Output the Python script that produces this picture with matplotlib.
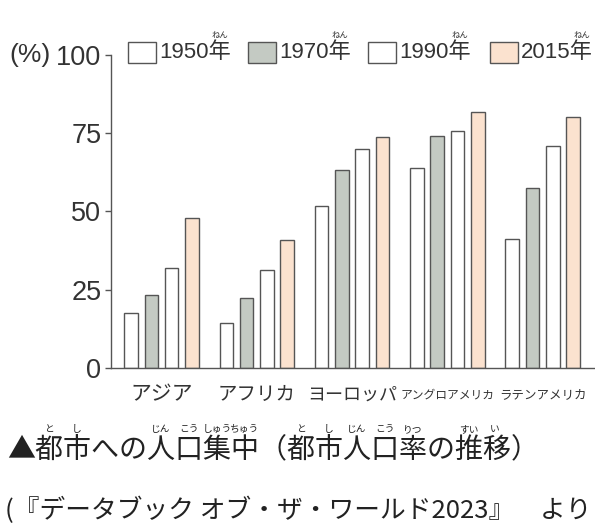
import matplotlib
matplotlib.use('Agg')
import matplotlib.pyplot as plt
from matplotlib.patches import Rectangle
import numpy as np

plt.rcParams['font.family'] = ['Noto Sans CJK JP', 'DejaVu Sans']
num_font = ['Liberation Sans', 'Noto Sans CJK JP']

regions = ['アジア', 'アフリカ', 'ヨーロッパ', 'アングロアメリカ', 'ラテンアメリカ']
years = ['1950年', '1970年', '1990年', '2015年']
v1950 = [17.4, 14.3, 51.7, 64.0, 41.3]
v1970 = [23.3, 22.3, 63.2, 74.2, 57.4]
v1990 = [31.9, 31.3, 70.0, 75.7, 70.9]
v2015 = [47.8, 40.8, 73.9, 81.8, 80.1]
yticks = [0, 25, 50, 75, 100]

colors = ['#ffffff', '#c4cac3', '#ffffff', '#fbe2cf']
edge = '#555555'
txt = '#333333'

W, H = 595, 529
fig = plt.figure(figsize=(W / 100, H / 100), dpi=100)
fig.patch.set_facecolor('white')

def px(x, y):
    return x / W, 1 - y / H

ax = fig.add_axes([111 / W, 1 - 367.7 / H, 1 - 111 / W, (367.7 - 55.2) / H])
x = np.arange(len(regions))
step = 0.213
bw = 0.142
for k, vals in enumerate([v1950, v1970, v1990, v2015]):
    ax.bar(x + (k - 1.5) * step, vals, bw, color=colors[k], edgecolor=edge, linewidth=1.0)

ax.set_xlim(-0.53, 4.55)
ax.set_ylim(0, 100)
ax.set_yticks(yticks)
ax.set_yticklabels([str(t) for t in yticks], fontsize=19.5, color=txt, family=num_font)
ax.tick_params(axis='y', length=4.5, width=1, color=edge, pad=2.5)
ax.set_xticks(x)
ax.set_xticklabels([])
ax.tick_params(axis='x', length=0)
for s in ['top', 'right']:
    ax.spines[s].set_visible(False)
for s in ['left', 'bottom']:
    ax.spines[s].set_color(edge)
    ax.spines[s].set_linewidth(1.0)
ax.patch.set_alpha(0)

# x category labels (long names squeezed smaller, like the condensed print)
lab_sizes = [15, 14, 13, 8.5, 9]
for i, (name, fs) in enumerate(zip(regions, lab_sizes)):
    ax.annotate(name, xy=(i, 0), xycoords=('data', 'axes fraction'),
                xytext=(0, -27), textcoords='offset pixels',
                ha='center', va='center', fontsize=fs, color=txt)

# unit label
fig.text(*px(9, 55), '(%)', fontsize=19, color=txt, ha='left', va='center',
         family=num_font)

fig.canvas.draw()
r = fig.canvas.get_renderer()

# legend drawn by hand
box_x = [128, 248, 368, 490]
for k, yr in enumerate(years):
    bx = box_x[k]
    fig.patches.append(Rectangle(px(bx, 63), 28 / W, 21 / H, transform=fig.transFigure,
                                 facecolor=colors[k], edgecolor=edge, linewidth=1.0))
    t = fig.text(*px(bx + 31, 53), yr, fontsize=16, color=txt, ha='left', va='center',
                 family=num_font)
    bb = t.get_window_extent(r)
    cx = bb.x1 - 16 * 100 / 72 / 2
    fig.text(cx / W, 1 - 35 / H, 'ねん', fontsize=6, color=txt, ha='center', va='center')

# caption with furigana
fig.text(*px(7, 449), '▲都市への人口集中（都市人口率の推移）', fontsize=20.2,
         color='#222222', ha='left', va='center')
ruby = [('と', 49), ('し', 77), ('じん', 161), ('こう', 189), ('しゅう', 217), ('ちゅう', 245),
        ('と', 301), ('し', 329), ('じん', 357), ('こう', 385), ('りつ', 413),
        ('すい', 469), ('い', 495)]
for rb, cx in ruby:
    fig.text(*px(cx, 429), rb, fontsize=7, color='#222222', ha='center', va='center')

fig.text(*px(5, 510), '(『データブック オブ・ザ・ワールド2023』　より', fontsize=18.5,
         color='#222222', ha='left', va='center')

fig.savefig('out.png', dpi=100)
